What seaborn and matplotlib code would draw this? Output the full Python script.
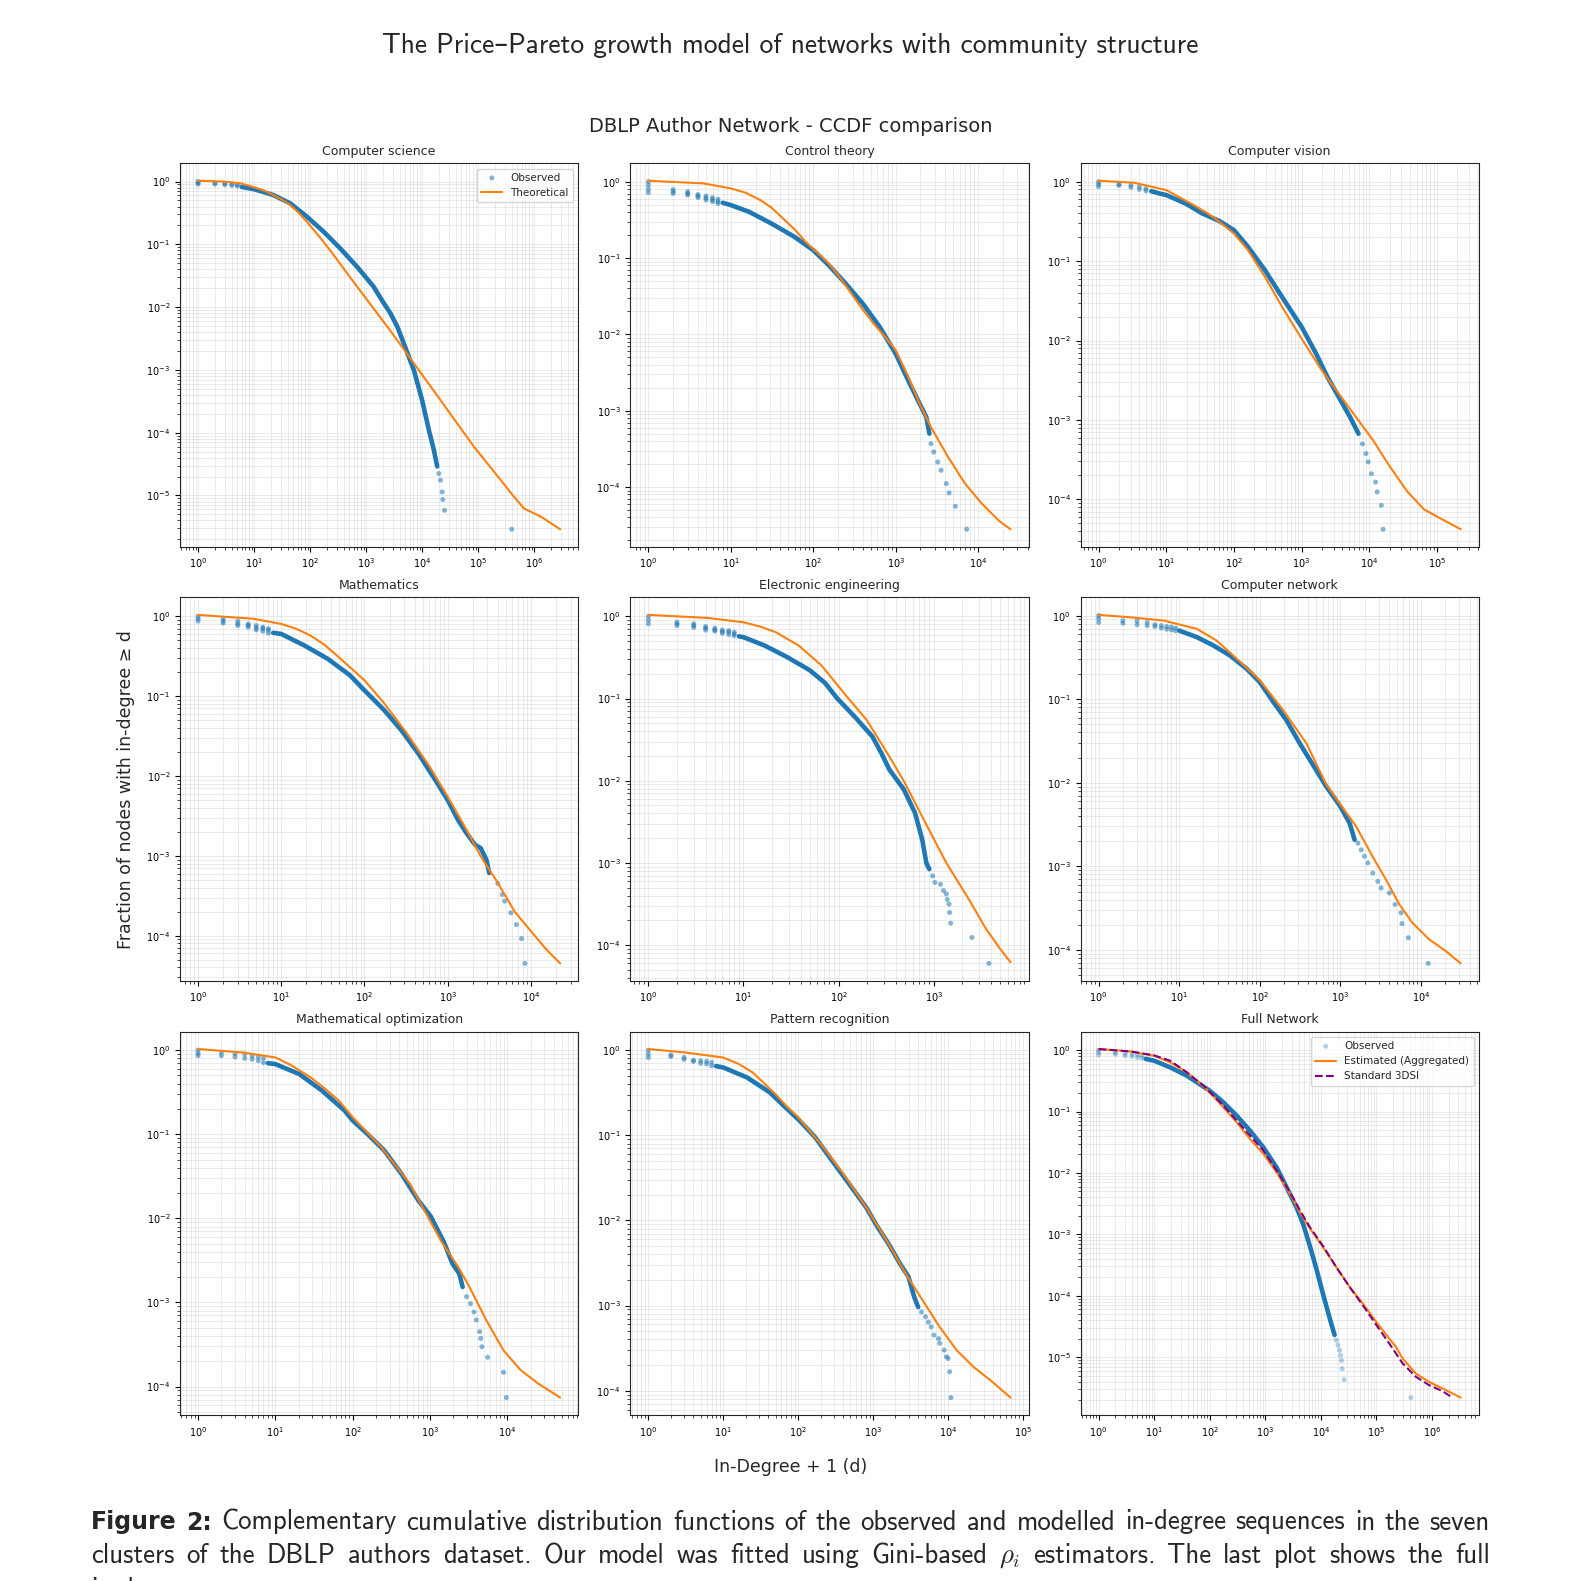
import matplotlib
matplotlib.use("Agg")
import matplotlib.pyplot as plt
from matplotlib.ticker import LogLocator, NullFormatter
import seaborn as sns
import numpy as np

# ---- values (d = in-degree + 1, p = fraction >= d) ----
titles = ["Computer science", "Control theory", "Computer vision",
          "Mathematics", "Electronic engineering", "Computer network",
          "Mathematical optimization", "Pattern recognition", "Full Network"]

# Computer science
cs_dot_d = [1, 1, 1, 2, 2, 3, 3, 4, 4, 5, 5, 19900, 21300, 22800, 23400, 25100, 398000]
cs_dot_p = [1.0, 0.95, 0.91, 0.95, 0.91, 0.93, 0.89, 0.91, 0.87, 0.89, 0.85,
            2.24e-5, 1.75e-5, 1.14e-5, 8.6e-6, 5.8e-6, 2.9e-6]
cs_obs_d = [6, 10, 22, 44, 87, 173, 344, 685, 1360, 1900, 2710, 3600, 4700, 7100, 10000,
            13200, 16200, 18600]
cs_obs_p = [0.82, 0.755, 0.61, 0.45, 0.277, 0.16, 0.0865, 0.0442, 0.0212, 0.0130, 0.0080,
            4.9e-3, 2.65e-3, 1.0e-3, 3.3e-4, 1.1e-4, 5.3e-5, 2.9e-5]
cs_fit_d = [1, 2.8, 5.6, 10, 15, 22, 31, 44, 62, 87, 123, 173, 250, 344, 685, 1360, 2710,
            4370, 10600, 21300, 42400, 84000, 192000, 439000, 663000, 1320000, 2920000]
cs_fit_p = [1.03, 1.0, 0.94, 0.81, 0.72, 0.61, 0.52, 0.425, 0.32, 0.23, 0.16, 0.11, 0.072,
            0.0488, 0.0214, 9.5e-3, 4.2e-3, 2.34e-3, 7.8e-4, 3.3e-4, 1.4e-4, 6.0e-5, 2.4e-5,
            9.5e-6, 6.2e-6, 4.6e-6, 2.9e-6]

# Control theory
ct_dot_d = [1, 1, 1, 1, 2, 2, 2, 3, 3, 3, 4, 4, 4, 5, 5, 5, 6, 6, 6, 7, 7, 7,
            2680, 2900, 3240, 3560, 4110, 4450, 5300, 7280]
ct_dot_p = [1.0, 0.9, 0.8, 0.72, 0.79, 0.74, 0.70, 0.74, 0.70, 0.67, 0.68, 0.65, 0.62,
            0.65, 0.61, 0.575, 0.62, 0.58, 0.55, 0.59, 0.55, 0.52,
            3.7e-4, 2.88e-4, 2.13e-4, 1.66e-4, 1.11e-4, 8.4e-5, 5.6e-5, 2.8e-5]
ct_obs_d = [8, 10, 16.6, 31, 59, 100, 154, 247, 398, 641, 1000, 1420, 1950, 2350, 2570]
ct_obs_p = [0.53, 0.494, 0.404, 0.284, 0.19, 0.127, 0.0807, 0.0464, 0.0254, 0.0125,
            5.6e-3, 2.5e-3, 1.24e-3, 8.3e-4, 5.0e-4]
ct_fit_d = [1, 4.67, 10, 15, 22.8, 31, 43, 60, 81, 110, 154, 210, 290, 400, 547, 750,
            1000, 1420, 1950, 2680, 4300, 6940, 11200, 18000, 24700]
ct_fit_p = [1.03, 0.95, 0.818, 0.72, 0.575, 0.46, 0.33, 0.235, 0.163, 0.12, 0.085, 0.056,
            0.0343, 0.021, 0.0136, 9.2e-3, 6.2e-3, 2.8e-3, 1.24e-3, 6.1e-4, 2.5e-4, 1.11e-4,
            6.0e-5, 3.6e-5, 2.8e-5]

# Computer vision
cv_dot_d = [1, 1, 1, 2, 2, 3, 3, 4, 4, 5, 5,
            7960, 8940, 9660, 10800, 12400, 13100, 15100, 16000]
cv_dot_p = [1.0, 0.93, 0.87, 0.93, 0.9, 0.91, 0.85, 0.87, 0.8, 0.82, 0.77,
            5.0e-4, 3.77e-4, 2.96e-4, 2.1e-4, 1.65e-4, 1.24e-4, 8.4e-5, 4.2e-5]
cv_obs_d = [6, 8, 10, 19.2, 34, 61, 100, 161, 287, 513, 1000, 1630, 2400, 3540, 5200, 6950]
cv_obs_p = [0.76, 0.71, 0.68, 0.533, 0.399, 0.32, 0.246, 0.152, 0.077, 0.0355, 0.0149,
            6.9e-3, 3.5e-3, 1.95e-3, 1.09e-3, 6.7e-4]
cv_fit_d = [1, 3.4, 10, 23, 40, 61, 100, 161, 287, 513, 1000, 1980, 3540, 6310, 11300,
            20100, 35900, 64100, 115000, 225000]
cv_fit_p = [1.03, 0.97, 0.785, 0.533, 0.405, 0.313, 0.223, 0.138, 0.0637, 0.0267, 0.0106,
            4.23e-3, 2.15e-3, 1.1e-3, 5.6e-4, 2.6e-4, 1.28e-4, 7.5e-5, 5.7e-5, 4.2e-5]

# Mathematics
ma_dot_d = [1, 1, 1, 2, 2, 2, 3, 3, 3, 4, 4, 4, 5, 5, 5, 6, 6, 6, 7, 7, 7,
            4000, 4530, 4830, 5740, 6710, 7730, 8490]
ma_dot_p = [1.0, 0.93, 0.87, 0.93, 0.87, 0.82, 0.87, 0.81, 0.765, 0.8, 0.77, 0.73,
            0.765, 0.72, 0.675, 0.73, 0.7, 0.65, 0.7, 0.67, 0.614,
            4.5e-4, 3.28e-4, 2.71e-4, 1.94e-4, 1.38e-4, 9.2e-5, 4.5e-5]
ma_obs_d = [8, 10, 19, 36, 67, 100, 173, 277, 443, 710, 1000, 1330, 1680, 2130, 2490, 2920, 3160]
ma_obs_p = [0.62, 0.60, 0.43, 0.294, 0.182, 0.118, 0.0665, 0.0375, 0.0192, 8.9e-3,
            5.0e-3, 2.82e-3, 1.93e-3, 1.38e-3, 1.25e-3, 8.95e-4, 6.1e-4]
ma_fit_d = [1, 4.66, 10, 15, 22.4, 33, 49, 70, 100, 173, 324, 607, 1000, 1680, 2490, 4000,
            6400, 10300, 15200, 22500]
ma_fit_p = [1.04, 0.93, 0.80, 0.70, 0.574, 0.44, 0.308, 0.22, 0.158, 0.081, 0.034, 0.0131,
            5.5e-3, 2.13e-3, 9.9e-4, 4.6e-4, 2.0e-4, 1.1e-4, 6.8e-5, 4.5e-5]

# Electronic engineering
ee_dot_d = [1, 1, 1, 2, 2, 2, 3, 3, 3, 4, 4, 4, 5, 5, 5, 6, 6, 6, 7, 7, 7, 8, 8, 8,
            975, 1030, 1180, 1270, 1360, 1390, 1450, 1470, 1510, 2520, 3810]
ee_dot_p = [1.0, 0.9, 0.81, 0.85, 0.81, 0.77, 0.81, 0.77, 0.736, 0.75, 0.72, 0.68,
            0.716, 0.685, 0.66, 0.68, 0.65, 0.62, 0.67, 0.64, 0.6, 0.64, 0.61, 0.58,
            6.96e-4, 5.8e-4, 5.5e-4, 4.6e-4, 4.2e-4, 3.6e-4, 3.16e-4, 2.5e-4, 1.85e-4,
            1.24e-4, 6.0e-5]
ee_obs_d = [9, 10, 16.6, 28.8, 50, 72, 97, 150, 227, 280, 343, 484, 637, 760, 838, 900]
ee_obs_p = [0.57, 0.557, 0.442, 0.319, 0.22, 0.155, 0.1, 0.059, 0.0344, 0.022, 0.0136,
            7.9e-3, 4.06e-3, 1.9e-3, 1.0e-3, 8.4e-4]
ee_fit_d = [1, 4.2, 10, 15, 21.9, 38, 66, 127, 198, 343, 484, 783, 1360, 2350, 3550, 5010, 6420]
ee_fit_p = [1.04, 0.955, 0.846, 0.75, 0.64, 0.442, 0.253, 0.1, 0.0547, 0.0196, 0.01, 3.4e-3,
            1.0e-3, 3.6e-4, 1.58e-4, 9.0e-5, 6.2e-5]

# Computer network
cn_dot_d = [1, 1, 1, 2, 2, 3, 3, 4, 4, 5, 5, 6, 6, 7, 7, 8, 8, 9, 9,
            1650, 1810, 1990, 2190, 2520, 2910, 3200, 4050, 4760, 5650, 5810, 6960, 12300]
cn_dot_p = [1.0, 0.92, 0.83, 0.87, 0.81, 0.86, 0.78, 0.83, 0.76, 0.78, 0.74, 0.76, 0.71,
            0.74, 0.69, 0.73, 0.675, 0.71, 0.66,
            1.9e-3, 1.58e-3, 1.32e-3, 1.1e-3, 8.3e-4, 6.6e-4, 5.5e-4, 4.8e-4, 3.5e-4,
            2.78e-4, 2.07e-4, 1.4e-4, 6.9e-5]
cn_obs_d = [10, 16.6, 26.6, 42.7, 68.7, 100, 147, 214, 313, 458, 669, 1000, 1300, 1500]
cn_obs_p = [0.662, 0.552, 0.439, 0.333, 0.231, 0.16, 0.0927, 0.0561, 0.0296, 0.0163,
            9.0e-3, 5.2e-3, 3.29e-3, 2.08e-3]
cn_fit_d = [1, 2.48, 6.4, 16.6, 29, 51.7, 100, 195, 379, 669, 1000, 1570, 2520, 3690,
            5390, 7870, 12600, 20300, 31100]
cn_fit_p = [1.02, 0.955, 0.872, 0.694, 0.504, 0.305, 0.168, 0.074, 0.0296, 9.5e-3,
            5.5e-3, 3.0e-3, 1.3e-3, 6.9e-4, 3.5e-4, 2.1e-4, 1.34e-4, 9.7e-5, 6.9e-5]

# Mathematical optimization
mo_dot_d = [1, 1, 1, 2, 2, 3, 3, 4, 4, 5, 5, 6, 6, 7, 7,
            2960, 3330, 3690, 3950, 4370, 4520, 4670, 5530, 8870, 9660]
mo_dot_p = [1.0, 0.92, 0.86, 0.94, 0.86, 0.91, 0.83, 0.9, 0.8, 0.86, 0.78, 0.83, 0.75,
            0.8, 0.71,
            1.17e-3, 9.7e-4, 7.7e-4, 6.2e-4, 4.5e-4, 3.74e-4, 2.98e-4, 2.23e-4, 1.48e-4, 7.4e-5]
mo_obs_d = [8, 10, 20.4, 40, 78.5, 100, 154, 256, 425, 705, 1020, 1510, 1940, 2380, 2630]
mo_obs_p = [0.70, 0.682, 0.519, 0.33, 0.191, 0.145, 0.101, 0.064, 0.0339, 0.0163,
            0.0105, 5.2e-3, 2.9e-3, 2.2e-3, 1.53e-3]
mo_fit_d = [1, 3.77, 10, 16, 28.5, 45, 66, 100, 234, 545, 832, 1380, 2300, 3220, 5350, 8870,
            14700, 24400, 48000]
mo_fit_p = [1.03, 0.938, 0.818, 0.66, 0.474, 0.34, 0.251, 0.159, 0.07, 0.0259, 0.0127,
            5.4e-3, 2.65e-3, 1.53e-3, 6.1e-4, 2.7e-4, 1.58e-4, 1.1e-4, 7.4e-5]

# Pattern recognition
pr_dot_d = [1, 1, 1, 2, 2, 3, 3, 4, 4, 5, 5, 6, 6, 7, 7,
            4460, 5040, 5500, 6000, 6540, 7520, 7790, 8950, 9600, 10100, 10600, 11000]
pr_dot_p = [1.0, 0.9, 0.82, 0.88, 0.84, 0.82, 0.78, 0.76, 0.74, 0.75, 0.7, 0.74, 0.69,
            0.72, 0.655,
            8.4e-4, 7.4e-4, 6.4e-4, 5.6e-4, 4.5e-4, 4.1e-4, 3.6e-4, 3.0e-4, 2.5e-4,
            2.39e-4, 1.67e-4, 8.3e-5]
pr_obs_d = [8, 10, 20.8, 41.9, 84, 100, 169, 284, 480, 809, 1150, 1620, 2300, 2990, 3560, 4020]
pr_obs_p = [0.65, 0.626, 0.478, 0.319, 0.178, 0.155, 0.0948, 0.0505, 0.0269, 0.0143,
            8.4e-3, 5.3e-3, 3.1e-3, 2.17e-3, 1.26e-3, 9.6e-4]
pr_fit_d = [1, 3.07, 10, 16, 24.8, 35, 49.8, 70, 100, 201, 403, 809, 1620, 2740, 4620, 7790,
            13100, 22100, 37300, 68700]
pr_fit_p = [1.03, 0.94, 0.82, 0.69, 0.547, 0.41, 0.305, 0.22, 0.163, 0.079, 0.0352, 0.0143,
            5.3e-3, 2.37e-3, 1.15e-3, 5.6e-4, 3.0e-4, 1.9e-4, 1.32e-4, 8.3e-5]

# Full network
fn_dot_d = [1, 1, 1, 2, 2, 3, 3, 4, 4, 5, 5, 6, 6,
            18900, 20300, 21700, 22600, 23600, 24300, 26300, 418000]
fn_dot_p = [1.0, 0.92, 0.84, 0.9, 0.86, 0.88, 0.81, 0.86, 0.79, 0.84, 0.76, 0.81, 0.74,
            1.89e-5, 1.57e-5, 1.3e-5, 1.08e-5, 8.9e-6, 6.5e-6, 4.3e-6, 2.2e-6]
fn_obs_d = [7, 10, 19.5, 38.8, 77, 100, 176, 305, 529, 918, 1590, 2400, 3630, 4780,
            6300, 8300, 10900, 13400, 15400, 17700]
fn_obs_p = [0.72, 0.671, 0.523, 0.383, 0.254, 0.218, 0.141, 0.0857, 0.0489, 0.0262,
            0.0124, 5.9e-3, 2.77e-3, 1.49e-3, 6.6e-4, 2.76e-4, 1.08e-4, 5.5e-5, 3.5e-5, 2.3e-5]
fn_fit_d = [1, 3.74, 10, 19.5, 38.8, 58.6, 100, 176, 305, 529, 918, 1590, 2760, 4170,
            6300, 10900, 18900, 32800, 56900, 98600, 171000, 225000, 297000, 514000,
            891000, 1550000, 3290000]
fn_fit_p = [1.04, 0.95, 0.809, 0.631, 0.434, 0.317, 0.205, 0.117, 0.067, 0.0359, 0.0206,
            0.0103, 4.6e-3, 2.34e-3, 1.26e-3, 6.2e-4, 2.94e-4, 1.4e-4, 7.5e-5, 3.8e-5,
            2.0e-5, 1.47e-5, 9.5e-6, 5.4e-6, 3.95e-6, 3.1e-6, 2.2e-6]
fn_std_d = [1, 3.74, 10, 19.5, 38.8, 77, 176, 305, 529, 918, 1590, 2760, 4170, 6300,
            10900, 18900, 32800, 56900, 98600, 171000, 297000, 514000, 891000, 1550000, 2330000]
fn_std_p = [1.04, 0.95, 0.82, 0.67, 0.434, 0.263, 0.125, 0.071, 0.0406, 0.0233, 0.011,
            4.9e-3, 2.5e-3, 1.32e-3, 6.5e-4, 2.94e-4, 1.4e-4, 7.0e-5, 3.4e-5, 1.66e-5,
            7.9e-6, 4.8e-6, 3.5e-6, 2.8e-6, 2.2e-6]

header = "The Price\u2013Pareto growth model of networks with community structure"
caption_lines = [
    "Figure 2: Complementary cumulative distribution functions of the observed and modelled in-degree sequences in the seven",
    "clusters of the DBLP authors dataset. Our model was fitted using Gini-based $\\rho_i$ estimators. The last plot shows the full",
    "in-degree sequence.",
]

# ---- style ----
sns.set_style("ticks")
plt.rcParams["font.family"] = ["DejaVu Sans"]
BLUE = "#1f77b4"
ORANGE = "#ff7f0e"
PAGE_FONT = ["cmss10", "DejaVu Sans"]

W = H = 1581
fig, axes = plt.subplots(3, 3, figsize=(W / 100, H / 100), dpi=100)
fig.subplots_adjust(left=180 / W, right=1478.8 / W, top=1 - 163.3 / H,
                    bottom=1 - 1415 / H, wspace=0.1305, hspace=0.1325)

panels = [
    (cs_dot_d, cs_dot_p, cs_obs_d, cs_obs_p, cs_fit_d, cs_fit_p),
    (ct_dot_d, ct_dot_p, ct_obs_d, ct_obs_p, ct_fit_d, ct_fit_p),
    (cv_dot_d, cv_dot_p, cv_obs_d, cv_obs_p, cv_fit_d, cv_fit_p),
    (ma_dot_d, ma_dot_p, ma_obs_d, ma_obs_p, ma_fit_d, ma_fit_p),
    (ee_dot_d, ee_dot_p, ee_obs_d, ee_obs_p, ee_fit_d, ee_fit_p),
    (cn_dot_d, cn_dot_p, cn_obs_d, cn_obs_p, cn_fit_d, cn_fit_p),
    (mo_dot_d, mo_dot_p, mo_obs_d, mo_obs_p, mo_fit_d, mo_fit_p),
    (pr_dot_d, pr_dot_p, pr_obs_d, pr_obs_p, pr_fit_d, pr_fit_p),
    (fn_dot_d, fn_dot_p, fn_obs_d, fn_obs_p, fn_fit_d, fn_fit_p),
]

for i, (ax, title, (dd, dp, od, op, fd, fp)) in enumerate(zip(axes.flat, titles, panels)):
    full = i == 8
    ax.set_xscale("log")
    ax.set_yscale("log")
    # dense part of the observed CCDF (thousands of overlapping dots)
    sns.lineplot(x=od, y=op, ax=ax, color=BLUE, linewidth=3.3, sort=False,
                 estimator=None, solid_capstyle="round", solid_joinstyle="round")
    sns.scatterplot(x=dd, y=dp, ax=ax, color=BLUE, s=13, alpha=0.35 if full else 0.55,
                    edgecolor="none", label="Observed")
    sns.lineplot(x=fd, y=fp, ax=ax, color=ORANGE, linewidth=1.5, sort=False, estimator=None,
                 label="Estimated (Aggregated)" if full else "Theoretical")
    if full:
        sns.lineplot(x=fn_std_d, y=fn_std_p, ax=ax, color="purple", linewidth=1.5,
                     linestyle="--", sort=False, estimator=None, label="Standard 3DSI")

    for axis in (ax.xaxis, ax.yaxis):
        axis.set_major_locator(LogLocator(base=10, numticks=30))
        axis.set_minor_locator(LogLocator(base=10, subs=np.arange(2, 10), numticks=30))
        axis.set_minor_formatter(NullFormatter())
    ax.tick_params(labelsize=7, colors="black")
    ax.grid(True, which="both", color="#b0b0b0", alpha=0.25, linewidth=0.7)
    ax.set_title(title, fontsize=9)
    ax.set_xlabel("")
    ax.set_ylabel("")

    leg = ax.get_legend()
    if leg is not None:
        leg.remove()
    if i in (0, 8):
        h, l = ax.get_legend_handles_labels()
        names = ["Observed", "Estimated (Aggregated)", "Standard 3DSI"] if full else ["Observed", "Theoretical"]
        ax.legend([h[l.index(n)] for n in names], names, loc="upper right", fontsize=7.5)

fig.text(0.5, 1 - 126 / H, "DBLP Author Network - CCDF comparison", ha="center",
         va="center", fontsize=14)
fig.text(126 / W, 1 - 790 / H, "Fraction of nodes with in-degree \u2265 d", rotation=90,
         ha="center", va="center", fontsize=12.5)
fig.text(0.5, 1 - 1467 / H, "In-Degree + 1 (d)", ha="center", va="center", fontsize=12.5)

# ---- page header and caption around the figure ----
renderer = fig.canvas.get_renderer()


def width_of(t):
    return t.get_window_extent(renderer).width


head = fig.text(0.5, 1 - 45.4 / H, header, ha="center", va="center", family=PAGE_FONT, fontsize=15)
head.set_fontsize(15 * 817 / width_of(head))

left_px, right_px = 90.7, 1490
baselines = [1529.5, 1563, 1597]
rows = []
for n, line in enumerate(caption_lines):
    row = []
    for k, w in enumerate(line.split(" ")):
        bold = n == 0 and k < 2
        row.append(fig.text(0, 1 - baselines[n] / H, w, fontsize=8.8 if bold else 10,
                            va="baseline", ha="left",
                            family=["DejaVu Sans"] if bold else PAGE_FONT,
                            fontweight="bold" if bold else "normal", math_fontfamily="cm"))
    rows.append(row)

# scale the caption so the first line fills the text block with normal word spaces
first = sum(width_of(o) for o in rows[0])
space10 = 0.333 * 10 * 100 / 72
scale = (right_px - left_px) / (first + (len(rows[0]) - 1) * space10)
for row in rows:
    for o in row:
        o.set_fontsize(o.get_fontsize() * scale)

for n, row in enumerate(rows):
    widths = [width_of(o) for o in row]
    if n < 2:
        gap = (right_px - left_px - sum(widths)) / (len(row) - 1)
    else:
        gap = space10 * scale
    x = left_px
    for o, wdt in zip(row, widths):
        o.set_x(x / W)
        x += wdt + gap

fig.savefig("out.png", dpi=100)
